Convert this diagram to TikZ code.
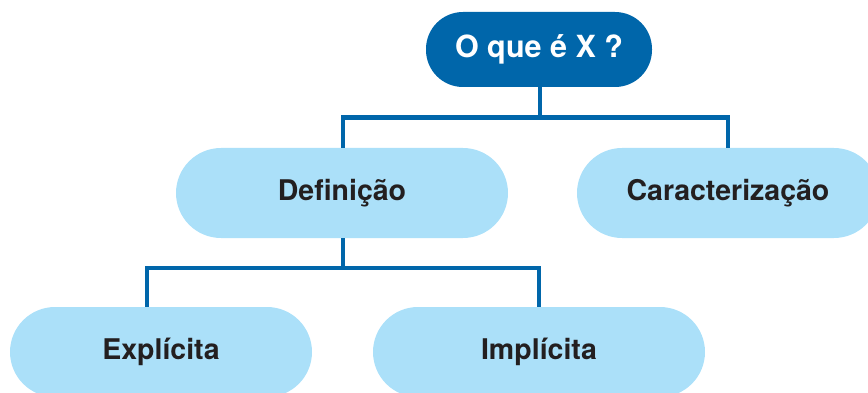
\documentclass[tikz,border=0pt]{standalone}
\usepackage{fontspec}
\setmainfont{TeX Gyre Heros}
\definecolor{darkblue}{HTML}{0066AA}
\definecolor{lightblue}{HTML}{ABE0F9}
\definecolor{txt}{HTML}{231F20}
\begin{document}
\begin{tikzpicture}[x=1pt,y=-1pt,
  topbox/.style={fill=darkblue, rounded corners=37pt, minimum width=226pt, minimum height=75pt,
    text=white, font=\fontsize{30.5}{34}\selectfont\bfseries, inner sep=0pt},
  subbox/.style={fill=lightblue, rounded corners=45pt, minimum height=90pt,
    text=txt, font=\fontsize{28.5}{32}\selectfont\bfseries, inner sep=0pt},
  conn/.style={draw=darkblue, line width=4.5pt}]
\useasboundingbox (0,0) rectangle (868,393);
\clip (0,0) rectangle (868,393);
\node[topbox] (q) at (539,49.5) {O que é X ?};
\node[subbox, minimum width=332pt] (def) at (342,193) {Definição};
\node[subbox, minimum width=302pt] (car) at (728,193) {Caracterização};
\node[subbox, minimum width=302pt] (exp) at (161,352) {Explícita};
\node[subbox, minimum width=332pt] (imp) at (539,352) {Implícita};
\draw[conn] ([xshift=1pt]q.south) -- ++(0,30.5) coordinate (j1);
\draw[conn] (j1) -| ([xshift=1pt]def.north);
\draw[conn] (j1) -| (car.north);
\draw[conn] ([xshift=1pt]def.south) -- ++(0,30) coordinate (j2);
\draw[conn] (j2) -| ([xshift=-14pt]exp.north);
\draw[conn] (j2) -| (imp.north);
\end{tikzpicture}
\end{document}
